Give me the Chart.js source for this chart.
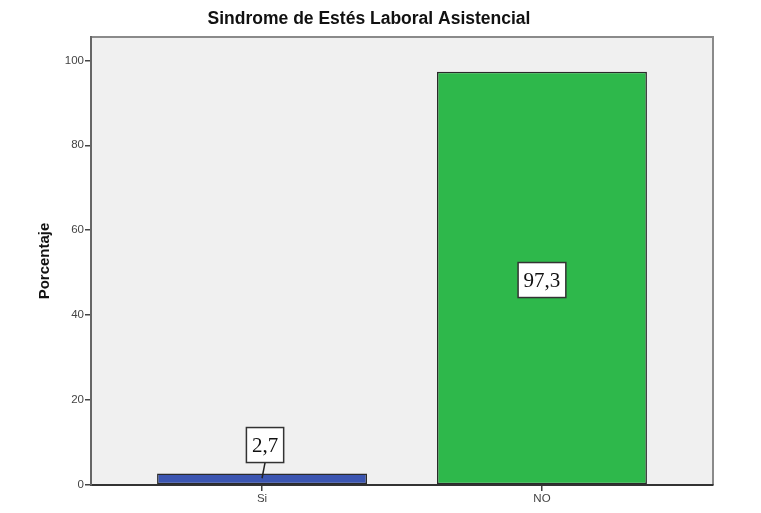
<!DOCTYPE html>
<html>
<head>
<meta charset="utf-8">
<script src="https://cdn.jsdelivr.net/npm/chart.js@4.4.0/dist/chart.umd.min.js"></script>
<style>
html,body{margin:0;padding:0;background:#fff;}
#wrap{width:761px;height:513px;}
</style>
</head>
<body>
<div id="wrap"><canvas id="c" width="761" height="513"></canvas></div>
<script>
const categories = ["Si", "NO"];
const percentages = [2.7, 97.3];
const valueLabels = ["2,7", "97,3"];
const barColors = ["#3B55B1", "#2EB84B"];
const yTicks = [0, 20, 40, 60, 80, 100];

const labelPlugin = {
  id: 'boxLabels',
  beforeDraw(chart) {
    const {ctx, chartArea: a} = chart;
    ctx.save();
    ctx.fillStyle = '#F0F0F0';
    ctx.fillRect(a.left, a.top, a.right - a.left, a.bottom - a.top);
    ctx.strokeStyle = '#8a8a8a';
    ctx.lineWidth = 2;
    ctx.beginPath();
    ctx.moveTo(a.left, a.top);
    ctx.lineTo(a.right, a.top);
    ctx.lineTo(a.right, a.bottom);
    ctx.stroke();
    ctx.restore();
  },
  afterDatasetsDraw(chart) {
    const {ctx} = chart;
    const meta = chart.getDatasetMeta(0);
    ctx.save();
    ctx.font = '21px "Liberation Serif", "Times New Roman", serif';
    ctx.textAlign = 'center';
    ctx.textBaseline = 'middle';
    meta.data.forEach((bar, i) => {
      const txt = valueLabels[i];
      const tw = ctx.measureText(txt).width;
      const bw = tw + 11, bh = 35;
      const barH = bar.base - bar.y;
      let cx = bar.x, cy;
      let leader = false;
      if (barH > bh + 10) {
        cy = (bar.y + bar.base) / 2 + 2;
      } else {
        cx = bar.x + 3;
        cy = bar.y - 11 - bh / 2;
        leader = true;
      }
      if (leader) {
        ctx.strokeStyle = '#222';
        ctx.lineWidth = 1.5;
        ctx.beginPath();
        ctx.moveTo(cx, cy + bh / 2);
        ctx.lineTo(bar.x, bar.base - 6);
        ctx.stroke();
      }
      ctx.fillStyle = '#ffffff';
      ctx.fillRect(cx - bw / 2, cy - bh / 2, bw, bh);
      ctx.strokeStyle = '#333';
      ctx.lineWidth = 1.5;
      ctx.strokeRect(cx - bw / 2, cy - bh / 2, bw, bh);
      ctx.fillStyle = '#111';
      ctx.fillText(txt, cx, cy + 1);
    });
    ctx.restore();
  }
};

new Chart(document.getElementById('c'), {
  type: 'bar',
  data: {
    datasets: [{
      data: categories.map((c, i) => ({x: i, y: percentages[i]})),
      backgroundColor: barColors,
      borderColor: '#2a2a2a',
      borderWidth: 1.5,
      borderSkipped: false,
      categoryPercentage: 1,
      barPercentage: 0.75
    }]
  },
  options: {
    responsive: false,
    animation: false,
    devicePixelRatio: 1,
    layout: {padding: {left: 25, right: 48, top: 0, bottom: 0}},
    plugins: {
      legend: {display: false},
      tooltip: {enabled: false},
      title: {
        display: true,
        text: 'Sindrome de Estés Laboral Asistencial',
        color: '#111',
        font: {family: '"Liberation Sans", Arial, sans-serif', size: 17.5, weight: 'bold', lineHeight: 1.2},
        padding: {top: 9, bottom: 7}
      }
    },
    scales: {
      x: {
        type: 'linear',
        offset: false,
        min: -0.611,
        max: 1.611,
        afterBuildTicks(scale) { scale.ticks = categories.map((c, i) => ({value: i})); },
        afterFit(scale) { scale.height = 28; },
        ticks: {
          callback: (v) => categories[v],
          color: '#444',
          font: {family: '"Liberation Sans", Arial, sans-serif', size: 11.5},
          padding: 1,
          maxRotation: 0,
          autoSkip: false
        },
        grid: {display: true, offset: false, drawOnChartArea: false, drawTicks: true, tickLength: 6, color: '#444', lineWidth: 1.5},
        border: {display: true, color: '#333', width: 2}
      },
      y: {
        min: 0,
        max: 105.5,
        afterBuildTicks(scale) { scale.ticks = yTicks.map(v => ({value: v})); },
        afterFit(scale) { scale.width = 66; },
        ticks: {
          color: '#444',
          font: {family: '"Liberation Sans", Arial, sans-serif', size: 11.5},
          padding: 1
        },
        grid: {display: true, drawOnChartArea: false, drawTicks: true, tickLength: 6, color: '#444', lineWidth: 1.5},
        border: {display: true, color: '#666', width: 2},
        title: {
          display: true,
          text: 'Porcentaje',
          color: '#111',
          font: {family: '"Liberation Sans", Arial, sans-serif', size: 15, weight: 'bold'},
          padding: {top: 11, bottom: 0}
        }
      }
    }
  },
  plugins: [labelPlugin]
});
</script>
</body>
</html>
